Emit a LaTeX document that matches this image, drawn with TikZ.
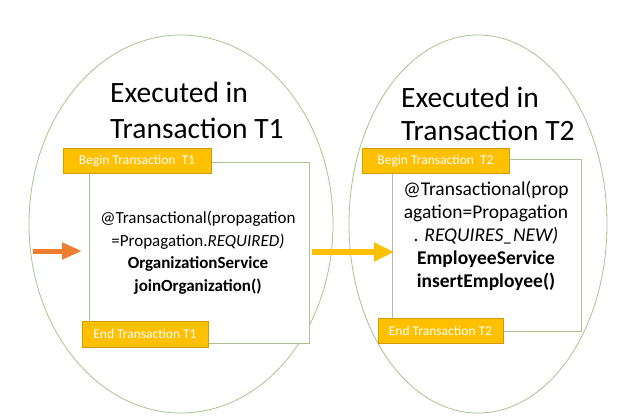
\documentclass[tikz,border=0pt]{standalone}
\usepackage{fontspec}
\setmainfont{Carlito}
\usetikzlibrary{arrows.meta}
\definecolor{lgreen}{HTML}{A9C48F}
\definecolor{gold}{HTML}{FFC000}
\definecolor{goldline}{HTML}{D09C00}
\definecolor{orng}{HTML}{ED7D31}
\tikzset{
  oval/.style={draw=lgreen, line width=0.8pt},
  frame/.style={draw=lgreen, line width=0.8pt, fill=white, inner sep=0pt},
  tag/.style={draw=goldline, fill=gold, line width=0.7pt, text=white, inner sep=0pt,
    font=\fontsize{13.5}{15}\selectfont},
  title/.style={anchor=base west, inner sep=0pt, font=\fontsize{29.5}{33}\selectfont},
  bodyl/.style={anchor=base, inner sep=0pt, font=\fontsize{17}{20}\selectfont},
  bodyr/.style={anchor=base, inner sep=0pt, font=\fontsize{19.5}{22}\selectfont},
  flow/.style={line width=6pt, -{Triangle[length=20pt,width=18pt]}}
}
\begin{document}
\begin{tikzpicture}[x=1pt,y=-1pt]
\useasboundingbox (0,0) rectangle (617,415);
\fill[white] (0,0) rectangle (617,415);
% ellipses
\draw[oval] (181,224) ellipse [x radius=152pt, y radius=189pt];
\draw[oval] (478,224) ellipse [x radius=129pt, y radius=189pt];
% titles
\node[title] (t1a) at (110,102) {Executed in};
\node[title] (t1b) at (110,138) {Transaction T1};
\node[title] (t2a) at (401,107) {Executed in};
\node[title] (t2b) at (401,140) {Transaction T2};
% frames
\node[frame, minimum width=220pt, minimum height=181pt] (r1) at (199,252.5) {};
\node[frame, minimum width=189pt, minimum height=172pt] (r2) at (486.5,245) {};
% tags
\node[tag, minimum width=148pt, minimum height=25pt] (b1) at (137,160.5) {Begin Transaction\ \ T1};
\node[tag, minimum width=126pt, minimum height=26pt] (e1) at (145,334) {End Transaction T1};
\node[tag, minimum width=147pt, minimum height=25pt] (b2) at (435.5,160.5) {Begin Transaction\ \ T2};
\node[tag, minimum width=125pt, minimum height=25pt] (e2) at (440.5,330.5) {End Transaction T2};
% body left
\node[bodyl] (l1) at (198,223) {@Transactional(propagation};
\node[bodyl] (l2) at (198,246) {=Propagation.\textit{REQUIRED)}};
\node[bodyl] (l3) at (198,268) {\textbf{OrganizationService}};
\node[bodyl] (l4) at (198,291) {\textbf{joinOrganization()}};
% body right
\node[bodyr] (m1) at (486,195) {@Transactional(prop};
\node[bodyr] (m2) at (486,218) {agation=Propagation};
\node[bodyr] (m3) at (486,241) {. \textit{REQUIRES\_NEW)}};
\node[bodyr] (m4) at (486,264) {\textbf{EmployeeService}};
\node[bodyr] (m5) at (486,287) {\textbf{insertEmployee()}};
% arrows
\coordinate (start) at (33,251);
\draw[flow, orng, line width=5pt, -{Triangle[length=20pt,width=16pt]}] (start) -- (82,251);
\draw[flow, gold] (312,252) -- (394,252);
\end{tikzpicture}
\end{document}
